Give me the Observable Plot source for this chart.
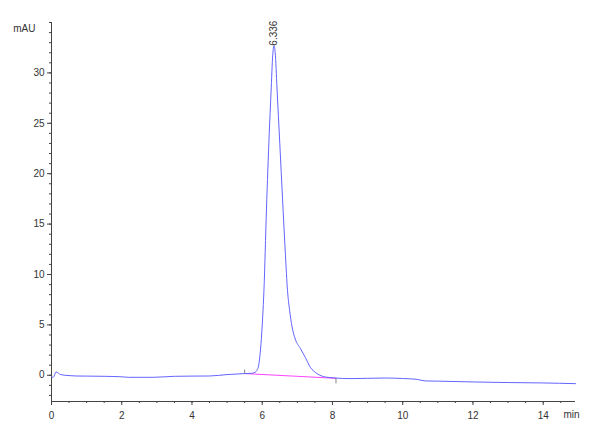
<!DOCTYPE html>
<html>
<head>
<meta charset="utf-8">
<script src="https://cdn.jsdelivr.net/npm/d3@7"></script>
<script src="https://cdn.jsdelivr.net/npm/@observablehq/plot@0.6"></script>
<style>
  html, body { margin: 0; padding: 0; background: #fff; }
</style>
</head>
<body>
<div id="chart"></div>
<script>
// Chromatogram trace (time in min, signal in mAU)
const times = [0, 0.05, 0.13, 0.26, 0.5, 0.7, 1.0, 1.5, 2.0, 2.2, 2.9, 3.5, 4.0, 4.5, 5.0, 5.5, 5.7, 5.8, 5.85, 5.9, 5.95, 6.0, 6.05, 6.12, 6.2, 6.25, 6.3, 6.336, 6.37, 6.42, 6.5, 6.58, 6.66, 6.72, 6.78, 6.85, 6.94, 7.09, 7.23, 7.37, 7.56, 7.8, 8.08, 8.5, 9.0, 9.5, 10.0, 10.4, 10.64, 11.0, 12.0, 13.0, 14.0, 14.92];
const signal = [-0.17, -0.2, 0.33, 0.07, -0.03, -0.07, -0.08, -0.1, -0.15, -0.2, -0.2, -0.1, -0.08, -0.07, 0.07, 0.17, 0.2, 0.3, 0.5, 1.0, 2.5, 5.0, 8.5, 16.4, 24, 28, 31.8, 32.7, 32, 28.5, 23, 17.4, 12.0, 8.4, 6.45, 4.8, 3.6, 2.65, 1.75, 0.8, 0.17, -0.17, -0.27, -0.33, -0.3, -0.27, -0.32, -0.4, -0.56, -0.58, -0.66, -0.72, -0.76, -0.83];

// Integration baseline under the peak
const baseTimes = [5.5, 8.1];
const baseSignal = [0.17, -0.3];

// Peak annotation
const peakTimes = [6.336];
const peakSignal = [32.7];
const peakLabels = ["6.336"];

// Axis ticks
const xMajor = [0, 2, 4, 6, 8, 10, 12, 14];
const xMinor = d3.range(0, 15, 0.5);
const yMajor = [0, 5, 10, 15, 20, 25, 30];
const yMinor = d3.range(-2, 36, 1);

const trace = times.map((t, i) => ({t, v: signal[i]}));
const base = baseTimes.map((t, i) => ({t, v: baseSignal[i]}));
const peaks = peakTimes.map((t, i) => ({t, v: peakSignal[i], label: peakLabels[i]}));

const tickUp = {draw(ctx) { ctx.moveTo(0, 0); ctx.lineTo(0, -4); }};
const tickDown = {draw(ctx) { ctx.moveTo(0, 0); ctx.lineTo(0, 5); }};

const chart = Plot.plot({
  width: 600,
  height: 440,
  marginLeft: 51,
  marginRight: 25,
  marginTop: 22,
  marginBottom: 39,
  x: {domain: [0, 14.92]},
  y: {domain: [-2.6, 35]},
  style: {fontFamily: "'Liberation Sans', Arial, sans-serif", fontSize: "10px", color: "#333", background: "#fff"},
  marks: [
    Plot.ruleX([0], {stroke: "#444"}),
    Plot.ruleY([-2.6], {stroke: "#444"}),
    Plot.axisY({ticks: yMajor, tickSize: 4, tickPadding: 3, label: null, stroke: "#444"}),
    Plot.axisY({ticks: yMinor, tickSize: 2, text: null, label: null, stroke: "#444"}),
    Plot.axisX({ticks: xMajor, tickSize: 4, tickPadding: 6, label: null, stroke: "#444", tickFormat: d => String(d)}),
    Plot.axisX({ticks: xMinor, tickSize: 2, text: null, label: null, stroke: "#444"}),
    Plot.text(["mAU"], {frameAnchor: "top-left", dx: -16, dy: 6, textAnchor: "end", lineAnchor: "middle", fill: "#333"}),
    Plot.text(["min"], {frameAnchor: "bottom-right", dx: -4, dy: 13, textAnchor: "middle", lineAnchor: "middle", fill: "#333"}),
    Plot.line(base, {x: "t", y: "v", stroke: "#ff44ff", strokeWidth: 1}),
    Plot.line(trace, {x: "t", y: "v", stroke: "#6464ff", strokeWidth: 1, curve: "monotone-x"}),
    Plot.dot(base.slice(0, 1), {x: "t", y: "v", symbol: tickUp, stroke: "#666", strokeWidth: 0.8, r: 3}),
    Plot.dot(base.slice(1), {x: "t", y: "v", symbol: tickDown, stroke: "#666", strokeWidth: 0.8, r: 3}),
    Plot.text(peaks, {x: "t", y: "v", text: "label", rotate: -90, textAnchor: "start", lineAnchor: "middle", dx: 0, dy: 0, fill: "#333", fontSize: 10})
  ]
});
document.getElementById("chart").appendChild(chart);
</script>
</body>
</html>
